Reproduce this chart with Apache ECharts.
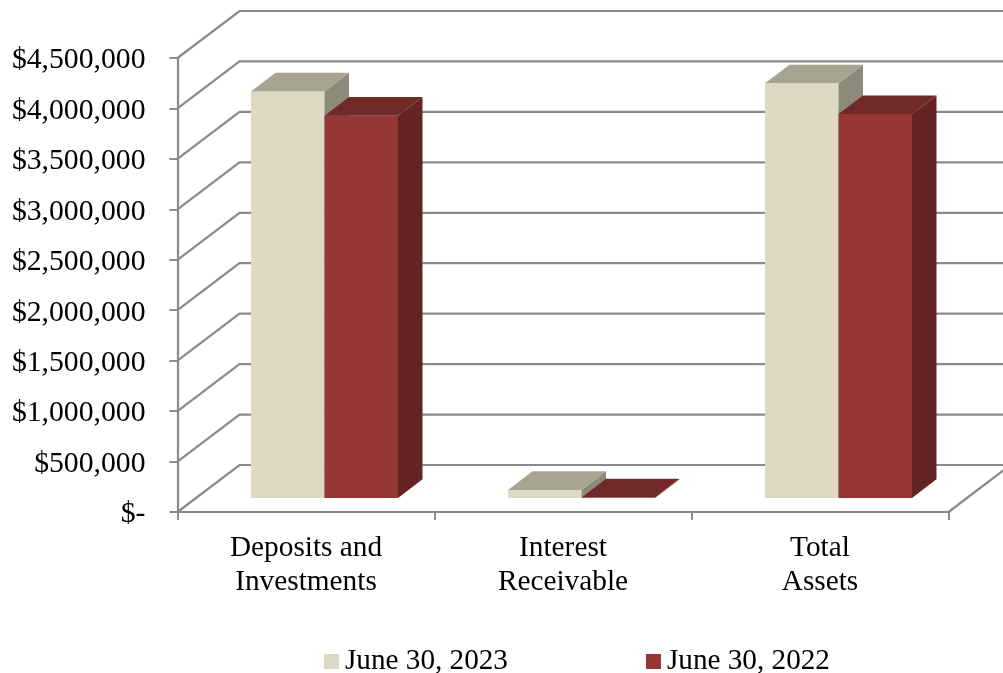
<!DOCTYPE html>
<html><head><meta charset="utf-8">
<style>html,body{margin:0;padding:0;background:#fff}#c{width:1003px;height:673px}</style>
<script src="https://cdn.jsdelivr.net/npm/echarts@6/dist/echarts.min.js"></script>
</head><body><div id="c"></div>
<script>
var categories = ['Deposits and\nInvestments', 'Interest\nReceivable', 'Total\nAssets'];
var seriesNames = ['June 30, 2023', 'June 30, 2022'];
var values2023 = [4030000, 79000, 4110000];
var values2022 = [3790000, 6000, 3805000];
var gridValues = [0, 500000, 1000000, 1500000, 2000000, 2500000, 3000000, 3500000, 4000000, 4500000];
var tickLabels = ['$-', '$500,000', '$1,000,000', '$1,500,000', '$2,000,000', '$2,500,000', '$3,000,000', '$3,500,000', '$4,000,000', '$4,500,000'];

var FONT = '"Liberation Serif","Times New Roman",serif';
var GRAY = '#8a8a8a';
var WALL_DX = 62, WALL_DY = 47;      // depth of the floor
var BAR_OFF_DX = 18.5, BAR_OFF_DY = 14; // bar front plane behind axis plane
var BAR_DX = 24.5, BAR_DY = 18.7;    // bar depth
var BAR_W = 73.5;

function gridRender(params, api) {
  var v = api.value(1);
  var cs = params.coordSys;
  var y = api.coord([0, v])[1];
  var x0 = cs.x, xr = cs.x + cs.width;
  var shape = { points: [[x0, y], [x0 + WALL_DX, y - WALL_DY], [1003, y - WALL_DY]] };
  var children = [{ type: 'polyline', shape: shape, style: { fill: null, stroke: GRAY, lineWidth: 2.2 } }];
  if (v === 0) {
    children.push({ type: 'polyline', shape: { points: [[xr, y], [xr + WALL_DX, y - WALL_DY]] },
      style: { fill: null, stroke: GRAY, lineWidth: 2.2 } });
  }
  return { type: 'group', children: children };
}

function barRender(slot, front, top, side) {
  return function (params, api) {
    var p = api.coord([api.value(0), api.value(1)]);
    var base = api.coord([api.value(0), 0]);
    var xl = p[0] + BAR_OFF_DX - BAR_W + slot * BAR_W;
    var xr = xl + BAR_W;
    var yt = p[1] - BAR_OFF_DY;
    var yb = base[1] - BAR_OFF_DY;
    return { type: 'group', children: [
      { type: 'polygon', shape: { points: [[xl, yb], [xr, yb], [xr, yt], [xl, yt]] }, style: { fill: front } },
      { type: 'polygon', shape: { points: [[xr, yb], [xr + BAR_DX, yb - BAR_DY], [xr + BAR_DX, yt - BAR_DY], [xr, yt]] }, style: { fill: side } },
      { type: 'polygon', shape: { points: [[xl, yt], [xr, yt], [xr + BAR_DX, yt - BAR_DY], [xl + BAR_DX, yt - BAR_DY]] }, style: { fill: top } }
    ] };
  };
}

var chart = echarts.init(document.getElementById('c'), null, { renderer: 'canvas' });
chart.setOption({
  animation: false,
  backgroundColor: '#fff',
  grid: { left: 177.5, right: 54.5, top: 58, bottom: 161, containLabel: false },
  legend: {
    data: seriesNames, left: 319, top: 642, itemWidth: 15, itemHeight: 15, itemGap: 138,
    icon: 'rect', textStyle: { fontFamily: FONT, fontSize: 29.2, color: '#000', padding: [0, 0, 0, 1] }
  },
  xAxis: {
    type: 'category', data: categories,
    axisLine: { lineStyle: { color: GRAY, width: 2.2 } },
    axisTick: { show: true, length: 8, lineStyle: { color: GRAY, width: 2 } },
    axisLabel: { fontFamily: FONT, fontSize: 29.3, color: '#000', lineHeight: 34, margin: 19.5, interval: 0 },
    splitLine: { show: false }
  },
  yAxis: {
    type: 'value', min: 0, max: 4500000, interval: 500000,
    axisLine: { show: true, lineStyle: { color: GRAY, width: 2.2 } },
    axisTick: { show: true, length: 8, lineStyle: { color: GRAY, width: 2 } },
    axisLabel: { color: '#000', margin: 32,
      rich: { t: { fontFamily: FONT, fontSize: 29.7, color: '#000', padding: [5, 0, 0, 0] } },
      formatter: function (v) { return '{t|' + tickLabels[gridValues.indexOf(v)] + '}'; } },
    splitLine: { show: false }
  },
  series: [
    { type: 'custom', name: 'grid', silent: true, z: 1, clip: false, renderItem: gridRender,
      encode: { x: 0, y: 1 }, data: gridValues.map(function (v) { return [0, v]; }) },
    { type: 'custom', name: seriesNames[0], z: 3, clip: false, itemStyle: { color: '#DDD9C3' },
      renderItem: barRender(0, '#DDD9C3', '#A6A592', '#8C8B79'), encode: { x: 0, y: 1 },
      data: values2023.map(function (v, i) { return [i, v]; }) },
    { type: 'custom', name: seriesNames[1], z: 4, clip: false, itemStyle: { color: '#953735' },
      renderItem: barRender(1, '#953735', '#722A28', '#632423'), encode: { x: 0, y: 1 },
      data: values2022.map(function (v, i) { return [i, v]; }) }
  ]
});
</script></body></html>
